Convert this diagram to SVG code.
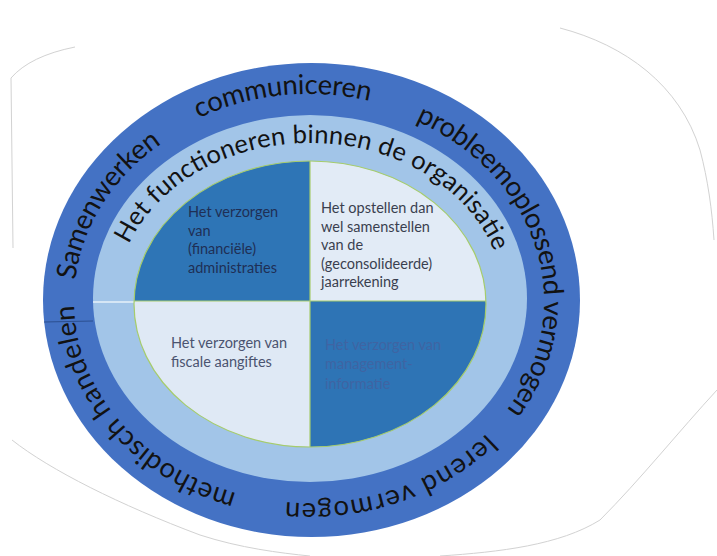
<svg xmlns="http://www.w3.org/2000/svg" width="717" height="556" viewBox="0 0 717 556">
<defs>
<style>
.ring{font-family:Lato,"Liberation Sans",sans-serif;font-size:27.5px;fill:#121212;}
.iring{font-family:Lato,"Liberation Sans",sans-serif;font-size:25.5px;fill:#121212;}
.q{font-family:Lato,"Liberation Sans",sans-serif;font-size:14.5px;}
.outline{fill:none;stroke:#d2d2d2;stroke-width:1;}
.div{stroke:#a6cc6c;stroke-width:1.2;fill:none;}
</style>
<clipPath id="pieClip"><ellipse cx="310" cy="304" rx="176" ry="143"/></clipPath>
<path id="pSamen" d="M75.3,279.9 A235,202 0 0 1 209.7,117.9"/>
<path id="pComm" d="M198.7,118.2 A235,207 0 0 1 426.5,121.7"/>
<path id="pProb" d="M415.7,121 A235,202 0 0 1 475.2,443.8"/>
<path id="pLerend" d="M486.4,433.5 A235,202 0 0 1 228.6,490.8"/>
<path id="pMeth" d="M236.4,493.1 A235,202 0 0 1 82,248.7"/>
<path id="pInner" d="M128.9,244.4 A194,158 0 0 1 503.3,287.2"/>
</defs>
<rect width="717" height="556" fill="#ffffff"/>
<g id="paper-outline">
<path class="outline" d="M13,248 L11,78 Q30,56 75,47"/>
<path class="outline" d="M560,28 C625,45 680,85 700,150 C708,180 712,210 714,240"/>
<path class="outline" d="M717,390 C680,430 640,480 600,520 C560,545 500,552 440,556"/>
<path class="outline" d="M12,440 C50,470 120,505 200,535 C240,548 280,553 310,556"/>
</g>
<g id="outer-ring">
<ellipse cx="311.5" cy="300" rx="268.5" ry="237" fill="#4472C4"/>
<line x1="44" y1="322" x2="93" y2="321" stroke="#2b4f90" stroke-width="1"/>
<text class="ring"><textPath href="#pSamen" textLength="166">Samenwerken</textPath></text>
<text class="ring"><textPath href="#pComm" textLength="175">communiceren</textPath></text>
<text class="ring"><textPath href="#pProb" textLength="351">probleemoplossend vermogen</textPath></text>
<text class="ring"><textPath href="#pLerend" textLength="219">lerend vermogen</textPath></text>
<text class="ring"><textPath href="#pMeth" textLength="266">methodisch handelen</textPath></text>
</g>
<g id="inner-ring">
<ellipse cx="310" cy="298.5" rx="217" ry="183.5" fill="#A2C5E8"/>
<line x1="93" y1="302" x2="134" y2="302" stroke="#e6f0fa" stroke-width="1.5"/>
<text class="iring"><textPath href="#pInner" textLength="445">Het functioneren binnen de organisatie</textPath></text>
</g>
<g id="pie">
<g clip-path="url(#pieClip)">
<g id="quadrant-tl"><rect x="120" y="150" width="190" height="151" fill="#2E75B6"/></g>
<g id="quadrant-tr"><rect x="310" y="150" width="190" height="151" fill="#E2EBF6"/></g>
<g id="quadrant-bl"><rect x="120" y="301" width="190" height="160" fill="#DFE9F5"/></g>
<g id="quadrant-br"><rect x="310" y="301" width="190" height="160" fill="#2E74B5"/></g>
</g>
<ellipse class="div" cx="310" cy="304" rx="176" ry="143"/>
<line class="div" x1="310" y1="161" x2="310" y2="447"/>
<line class="div" x1="134" y1="301" x2="486" y2="301"/>
</g>
<g id="label-tl" class="q" fill="#1F2F55">
<text x="188" y="217">Het verzorgen</text>
<text x="188" y="236">van</text>
<text x="188" y="254">(financiële)</text>
<text x="188" y="273">administraties</text>
</g>
<g id="label-tr" class="q" fill="#3A3F4F">
<text x="321" y="213">Het opstellen dan</text>
<text x="321" y="232">wel samenstellen</text>
<text x="321" y="250">van de</text>
<text x="321" y="269">(geconsolideerde)</text>
<text x="321" y="287">jaarrekening</text>
</g>
<g id="label-bl" class="q" fill="#4B5470">
<text x="171" y="348">Het verzorgen van</text>
<text x="171" y="367">fiscale aangiftes</text>
</g>
<g id="label-br" class="q" fill="#3F64A3">
<text x="325" y="350">Het verzorgen van</text>
<text x="325" y="369">management-</text>
<text x="325" y="389">informatie</text>
</g>
<g id="connectors"/>
</svg>
